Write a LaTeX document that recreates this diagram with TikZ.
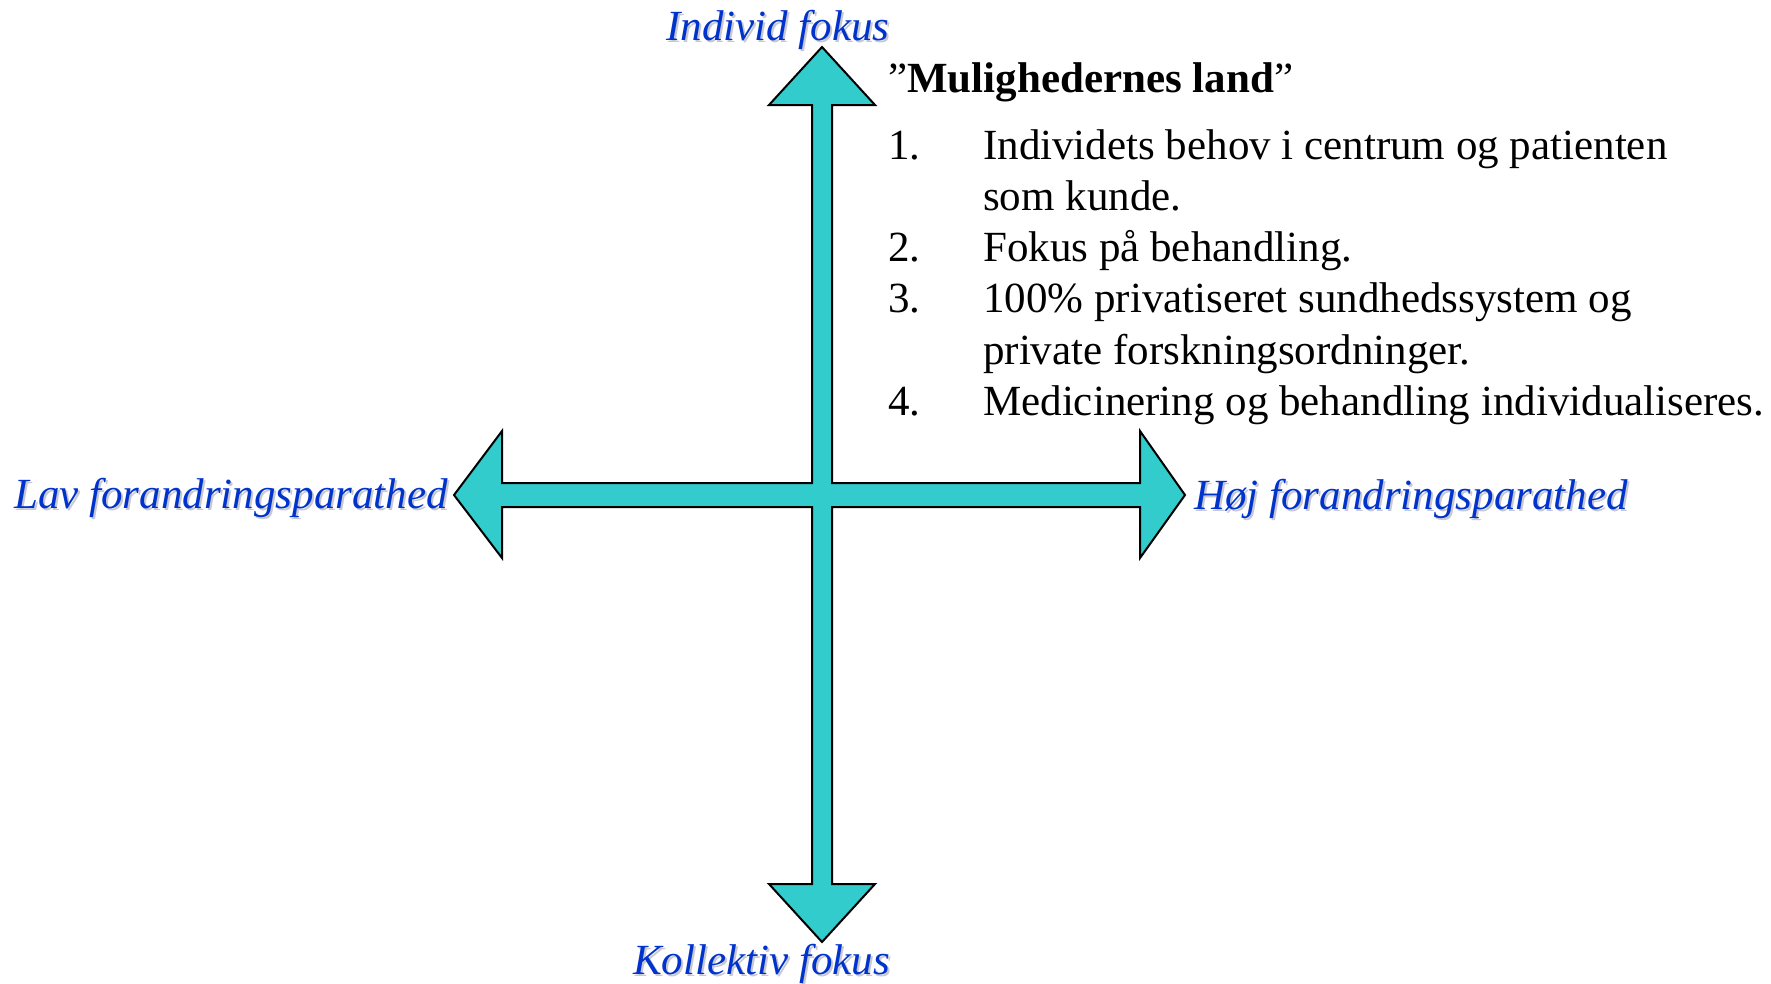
\documentclass[tikz,border=0pt]{standalone}
\usepackage{fontspec}
\setmainfont{Liberation Serif}
\definecolor{teal}{HTML}{33CCCC}
\definecolor{lblue}{HTML}{0033CC}
\definecolor{shad}{HTML}{C8C8D0}
\begin{document}
\begin{tikzpicture}[x=1pt,y=-1pt,
  txt/.style={inner sep=0pt,anchor=base west,font=\fontsize{43}{51}\selectfont},
  lbl/.style={inner sep=0pt,anchor=base west,font=\fontsize{43}{51}\selectfont\itshape,text=lblue},
  lblsh/.style={inner sep=0pt,anchor=base west,font=\fontsize{43}{51}\selectfont\itshape,text=shad}]
\useasboundingbox (0,0) rectangle (1771,983);
% cross with four arrowheads
\draw[fill=teal,line width=2pt,line join=miter]
 (822,47) -- (875,105) -- (832,105) -- (832,483) -- (1140,483) -- (1140,431)
 -- (1185,495) -- (1140,558) -- (1140,507) -- (832,507) -- (832,884)
 -- (875,884) -- (822,942) -- (769,884) -- (812,884) -- (812,507)
 -- (502,507) -- (502,558) -- (454,495) -- (502,431) -- (502,483)
 -- (812,483) -- (812,105) -- (769,105) -- cycle;
% axis labels with shadow
\node[lblsh] (tops) at (668,42) {Individ fokus};
\node[lbl] (top) at (666,40) {Individ fokus};
\node[lblsh] (lefts) at (16,510) {Lav forandringsparathed};
\node[lbl] (left) at (14,508) {Lav forandringsparathed};
\node[lblsh] (rights) at (1196,511) {Høj forandringsparathed};
\node[lbl] (right) at (1194,509) {Høj forandringsparathed};
\node[lblsh] (bots) at (635,976) {Kollektiv fokus};
\node[lbl] (bot) at (633,974) {Kollektiv fokus};
% text block
\node[txt] (title) at (888,92) {”\textbf{Mulighedernes land}”};
\node[txt] (n1) at (888,159) {1.};
\node[txt] (t1a) at (983,159) {Individets behov i centrum og patienten};
\node[txt] (t1b) at (983,210) {som kunde.};
\node[txt] (n2) at (888,261) {2.};
\node[txt] (t2) at (983,261) {Fokus på behandling.};
\node[txt] (n3) at (888,312) {3.};
\node[txt] (t3a) at (983,312) {100\% privatiseret sundhedssystem og};
\node[txt] (t3b) at (983,364) {private forskningsordninger.};
\node[txt] (n4) at (888,415) {4.};
\node[txt] (t4) at (983,415) {Medicinering og behandling individualiseres.};
\end{tikzpicture}
\end{document}
